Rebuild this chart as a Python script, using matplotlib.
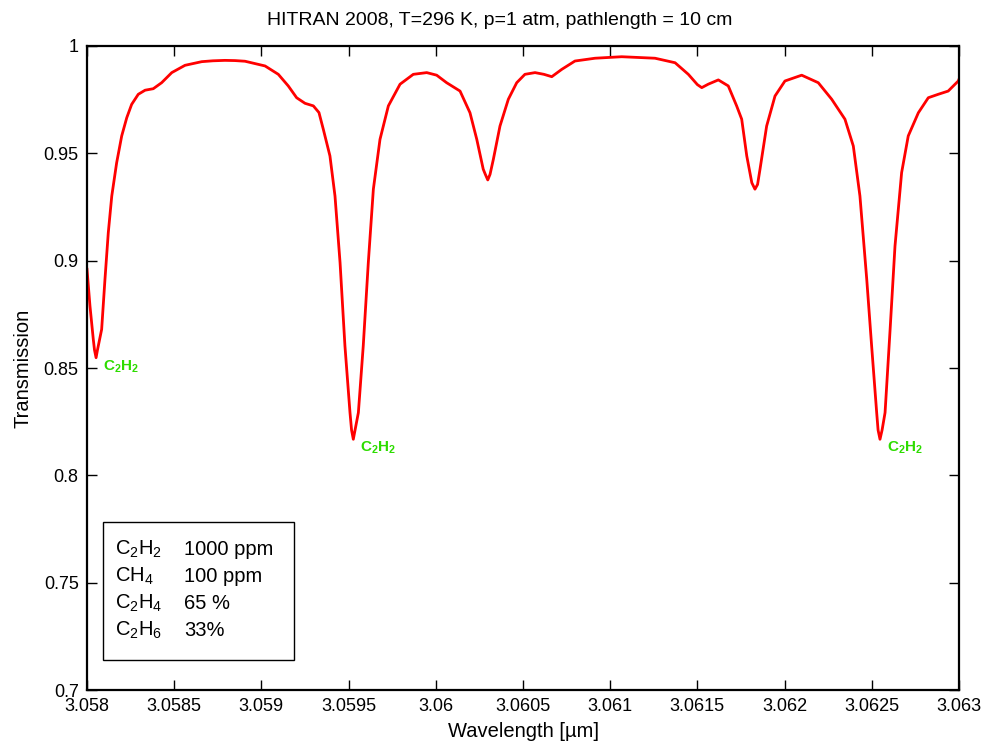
import matplotlib
matplotlib.use("Agg")
import matplotlib.pyplot as plt
from matplotlib.patches import Rectangle
from matplotlib.ticker import FormatStrFormatter, MultipleLocator

plt.rcParams['font.family'] = ['Liberation Sans', 'DejaVu Sans']
plt.rcParams['mathtext.fontset'] = 'custom'
plt.rcParams['mathtext.rm'] = 'Liberation Sans'
plt.rcParams['mathtext.it'] = 'Liberation Sans:italic'
plt.rcParams['mathtext.bf'] = 'Liberation Sans:bold'

# transmission spectrum
wavelength = [
    3.058000, 3.058017, 3.058036, 3.058043, 3.058052, 3.058060, 3.058084, 3.058103,
    3.058122, 3.058142, 3.058170, 3.058199, 3.058228, 3.058256, 3.058294, 3.058333,
    3.058380, 3.058428, 3.058486, 3.058562, 3.058658, 3.058722, 3.058791, 3.058849,
    3.058906, 3.059021, 3.059097, 3.059154, 3.059202, 3.059250, 3.059298, 3.059330,
    3.059355, 3.059393, 3.059422, 3.059451, 3.059479, 3.059508, 3.059517, 3.059527,
    3.059537, 3.059556, 3.059584, 3.059613, 3.059642, 3.059680, 3.059728, 3.059795,
    3.059871, 3.059948, 3.060005, 3.060062, 3.060139, 3.060196, 3.060235, 3.060272,
    3.060284, 3.060298, 3.060311, 3.060330, 3.060368, 3.060416, 3.060464, 3.060511,
    3.060569, 3.060620, 3.060665, 3.060722, 3.060798, 3.060913, 3.061066, 3.061257,
    3.061372, 3.061448, 3.061500, 3.061525, 3.061562, 3.061620, 3.061677, 3.061725,
    3.061754, 3.061783, 3.061812, 3.061830, 3.061845, 3.061859, 3.061897, 3.061945,
    3.062002, 3.062098, 3.062193, 3.062270, 3.062346, 3.062394, 3.062432, 3.062471,
    3.062499, 3.062528, 3.062536, 3.062547, 3.062559, 3.062576, 3.062605, 3.062633,
    3.062671, 3.062709, 3.062767, 3.062824, 3.062881, 3.062938, 3.062996, 3.063000,
]
transmission = [
    0.8960, 0.8789, 0.8634, 0.8584, 0.8548, 0.8584, 0.8680, 0.8913,
    0.9130, 0.9301, 0.9456, 0.9581, 0.9666, 0.9728, 0.9775, 0.9794,
    0.9801, 0.9829, 0.9876, 0.9910, 0.9927, 0.9931, 0.9933, 0.9932,
    0.9929, 0.9907, 0.9868, 0.9814, 0.9759, 0.9733, 0.9721, 0.9690,
    0.9612, 0.9488, 0.9301, 0.8991, 0.8603, 0.8292, 0.8211, 0.8168,
    0.8211, 0.8292, 0.8603, 0.8991, 0.9333, 0.9565, 0.9721, 0.9822,
    0.9868, 0.9876, 0.9864, 0.9829, 0.9790, 0.9689, 0.9565, 0.9426,
    0.9402, 0.9376, 0.9402, 0.9472, 0.9627, 0.9752, 0.9829, 0.9868,
    0.9876, 0.9868, 0.9857, 0.9891, 0.9930, 0.9943, 0.9950, 0.9943,
    0.9922, 0.9868, 0.9820, 0.9806, 0.9822, 0.9842, 0.9814, 0.9721,
    0.9659, 0.9488, 0.9363, 0.9333, 0.9355, 0.9426, 0.9627, 0.9767,
    0.9837, 0.9864, 0.9829, 0.9752, 0.9659, 0.9534, 0.9301, 0.8913,
    0.8603, 0.8292, 0.8211, 0.8168, 0.8211, 0.8292, 0.8680, 0.9068,
    0.9410, 0.9581, 0.9689, 0.9759, 0.9775, 0.9790, 0.9837, 0.9845,
]

# labelled C2H2 lines (wavelength, transmission at minimum)
peak_x = [3.058052, 3.059527, 3.062547]
peak_y = [0.8548, 0.8168, 0.8168]
peak_label = r'$\mathbf{C_2H_2}$'

mix_species = [r'C$_2$H$_2$', r'CH$_4$', r'C$_2$H$_4$', r'C$_2$H$_6$']
mix_amount = ['1000 ppm', '100 ppm', '65 %', '33%']

fig = plt.figure(figsize=(10, 7.43), dpi=100)
ax = fig.add_axes([0.087, 0.0713, 0.872, 0.8668])

ax.plot(wavelength, transmission, color='red', lw=2, solid_joinstyle='round')

for px, py in zip(peak_x, peak_y):
    ax.annotate(peak_label, (px, py), xytext=(7, -9), textcoords='offset pixels',
                color='#2ddc00', fontsize=11, ha='left', va='center')

ax.set_xlim(3.058, 3.063)
ax.set_ylim(0.7, 1.0)
ax.xaxis.set_major_locator(MultipleLocator(0.0005))
ax.yaxis.set_major_locator(MultipleLocator(0.05))
ax.xaxis.set_major_formatter(FormatStrFormatter('%g'))
ax.yaxis.set_major_formatter(FormatStrFormatter('%g'))
ax.tick_params(direction='in', length=7, width=1, top=True, right=True, labelsize=13, pad=6)
for s in ax.spines.values():
    s.set_linewidth(1.6)

fig.text(0.5, 0.972, 'HITRAN 2008, T=296 K, p=1 atm, pathlength = 10 cm',
         fontsize=14, ha='center', va='center')
ax.set_xlabel('Wavelength [\u00b5m]', fontsize=14.5, labelpad=5)
ax.set_ylabel('Transmission', fontsize=14.5, labelpad=8)

# gas mixture box
ax.add_patch(Rectangle((0.0183, 0.0466), 0.2191, 0.2143, transform=ax.transAxes,
                       facecolor='white', edgecolor='black', lw=1, zorder=3))
rows_y = [0.2096, 0.1677, 0.1258, 0.0839]
for sp, am, ry in zip(mix_species, mix_amount, rows_y):
    ax.text(0.0321, ry, sp, transform=ax.transAxes, fontsize=14.5, va='baseline', zorder=4)
    ax.text(0.1112, ry, am, transform=ax.transAxes, fontsize=14.5, va='baseline', zorder=4)

fig.savefig('out.png', dpi=100)
